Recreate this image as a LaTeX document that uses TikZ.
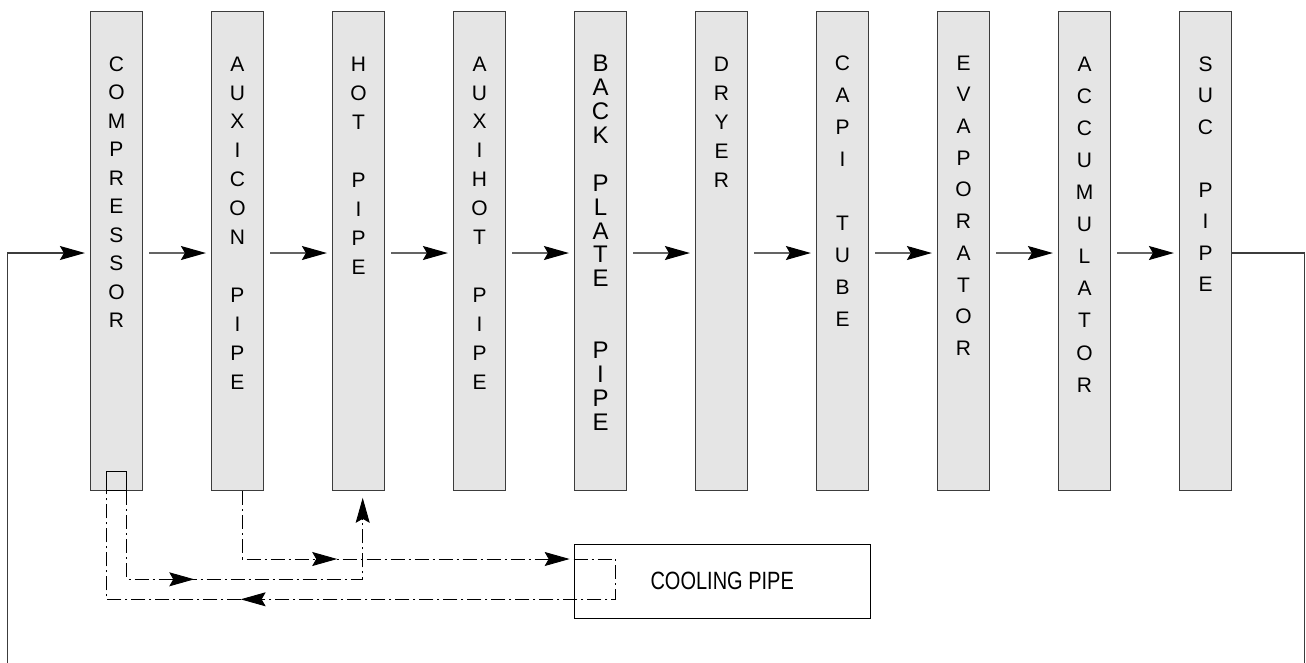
\documentclass[tikz,border=0pt]{standalone}
\usepackage{fontspec}
\setmainfont{Liberation Sans}
\usetikzlibrary{arrows.meta,decorations.markings}
\definecolor{boxfill}{RGB}{229,229,229}
\definecolor{boxline}{RGB}{60,60,60}
\definecolor{flowline}{RGB}{100,100,100}
\begin{document}
\begin{tikzpicture}[x=1pt,y=-1pt,
  unit/.style={draw=boxline, line width=1.2pt, fill=boxfill, minimum width=52pt, minimum height=479pt, inner sep=0pt},
  vtext/.style n args={2}{anchor=north, inner sep=0pt, align=center, font=\fontsize{#1}{#2}\selectfont},
  tipst/.style={-{Stealth[length=25pt,width=14pt,inset=4pt,color=black]}},
  flow/.style={draw=flowline, line width=1.3pt, tipst, shorten <=6pt, shorten >=5pt},
  loopline/.style={draw=boxline, line width=1.2pt, tipst, shorten >=5pt},
  dd/.style={draw=black, line width=0.9pt, dash pattern=on 14pt off 4pt on 2pt off 4pt},
  midarr/.style={postaction={decorate}, decoration={markings, mark=at position #1 with {\arrow{Stealth[length=25pt,width=14pt,inset=4pt]}}}},
  portbox/.style={draw=black, line width=0.9pt, minimum width=19.6pt, minimum height=19.4pt, anchor=south, inner sep=0pt},
  coolbox/.style={draw=black, line width=0.8pt, minimum width=296.3pt, minimum height=74.3pt, inner sep=0pt}
]
\useasboundingbox (0,0) rectangle (1306,662);

% units
\node[unit] (comp) at (116.5,251.1) {};
\node[vtext={21}{28.5}] (tcomp) at (116.5,56.5) {C\\O\\M\\P\\R\\E\\S\\S\\O\\R};
\node[unit] (auxc) at (237.5,251.1) {};
\node[vtext={21}{28.9}] (tauxc) at (237.5,56.5) {A\\U\\X\\I\\C\\O\\N\\~\\P\\I\\P\\E};
\node[unit] (hot) at (358.5,251.1) {};
\node[vtext={21}{29}] (thot) at (358.5,56.5) {H\\O\\T\\~\\P\\I\\P\\E};
\node[unit] (auxh) at (479.5,251.1) {};
\node[vtext={21}{28.9}] (tauxh) at (479.5,56.5) {A\\U\\X\\I\\H\\O\\T\\~\\P\\I\\P\\E};
\node[unit] (back) at (600.5,251.1) {};
\node[vtext={24}{23.9}] (tback) at (600.5,55) {B\\A\\C\\K\\~\\P\\L\\A\\T\\E\\~\\~\\P\\I\\P\\E};
\node[unit] (dryer) at (721.5,251.1) {};
\node[vtext={21}{29}] (tdryer) at (721.5,56.5) {D\\R\\Y\\E\\R};
\node[unit] (capi) at (842.5,251.1) {};
\node[vtext={21}{32}] (tcapi) at (842.5,55.5) {C\\A\\P\\I\\~\\T\\U\\B\\E};
\node[unit] (evap) at (963.5,251.1) {};
\node[vtext={21}{31.7}] (tevap) at (963.5,55.5) {E\\V\\A\\P\\O\\R\\A\\T\\O\\R};
\node[unit] (accu) at (1084.5,251.1) {};
\node[vtext={21}{32.1}] (taccu) at (1084.5,56.5) {A\\C\\C\\U\\M\\U\\L\\A\\T\\O\\R};
\node[unit] (suc) at (1205.5,251.1) {};
\node[vtext={21}{31.5}] (tsuc) at (1205.5,56.5) {S\\U\\C\\~\\P\\I\\P\\E};

\node[portbox] (port) at (comp.south) {};
\node[coolbox] (cool) at (722.2,581.2) {\scalebox{0.8}[1]{\fontsize{25}{25}\selectfont COOLING PIPE}};

% helper coordinates
\coordinate (ay) at (0,253);
\coordinate (y559) at (0,559);
\coordinate (y579) at (0,579.3);
\coordinate (y599) at (0,599.3);
\coordinate (rb) at (1304.3,672);
\coordinate (lb) at (7.3,672);

% main flow
\draw[flow] (comp.east |- ay) -- (auxc.west |- ay);
\draw[flow] (auxc.east |- ay) -- (hot.west |- ay);
\draw[flow] (hot.east |- ay) -- (auxh.west |- ay);
\draw[flow] (auxh.east |- ay) -- (back.west |- ay);
\draw[flow] (back.east |- ay) -- (dryer.west |- ay);
\draw[flow] (dryer.east |- ay) -- (capi.west |- ay);
\draw[flow] (capi.east |- ay) -- (evap.west |- ay);
\draw[flow] (evap.east |- ay) -- (accu.west |- ay);
\draw[flow] (accu.east |- ay) -- (suc.west |- ay);
\draw[loopline] (suc.east |- ay) -- (rb |- ay) -- (rb) -- (lb) -- (lb |- ay) -- (comp.west |- ay);

% cooling circuit
\draw[dd, tipst, midarr=155.6pt] (port.south east) -- (port.south east |- y579) -| ([xshift=4.2pt,yshift=-6.6pt]hot.south);
\draw[dd, tipst, midarr=162.7pt] ([xshift=4.8pt]auxc.south) |- ([xshift=-4pt]cool.west |- y559);
\draw[dd, midarr=456.7pt] (cool.west |- y559) -- ++(41.7,0) |- (port.south west |- y599) -- (port.south west);
\end{tikzpicture}
\end{document}
